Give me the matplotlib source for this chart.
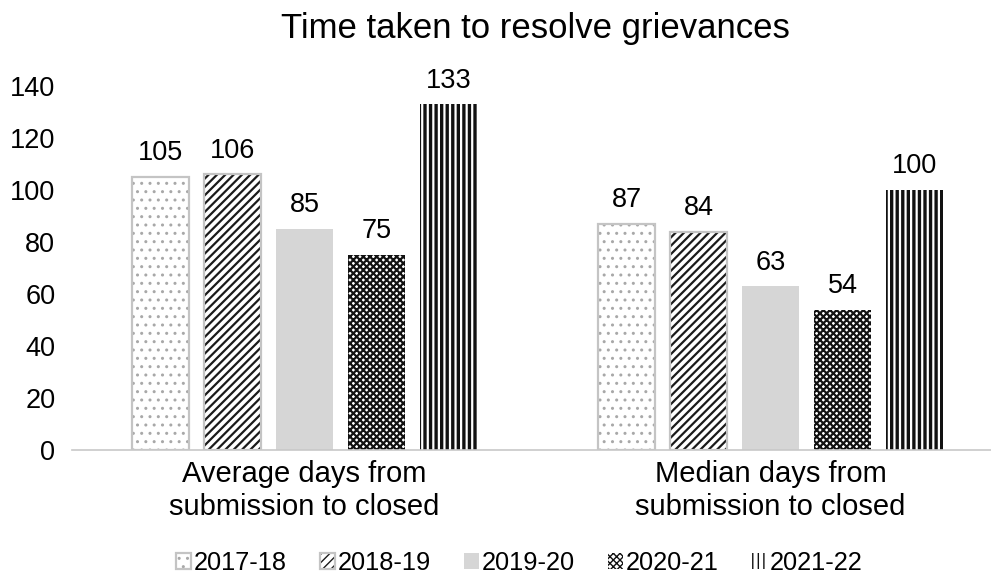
import numpy as np
import matplotlib.pyplot as plt
from matplotlib.legend_handler import HandlerTuple

categories = ["Average days from\nsubmission to closed", "Median days from\nsubmission to closed"]
years = ["2017-18", "2018-19", "2019-20", "2020-21", "2021-22"]
values = {
    "2017-18": [105, 87],
    "2018-19": [106, 84],
    "2019-20": [85, 63],
    "2020-21": [75, 54],
    "2021-22": [133, 100],
}

# fill, hatch colour, hatch, hatch width, outline colour (None = no outline)
styles = [
    ("white", "#a8a8a8", "..", 1.0, "#c4c4c4"),
    ("white", "#1a1a1a", "////", 1.6, "#c4c4c4"),
    ("#d6d6d6", "#d6d6d6", None, 1.0, None),
    ("white", "#111111", "xxxxx", 1.6, None),
    ("white", "#111111", "|||", 2.4, None),
]

plt.rcParams['font.family'] = ['Liberation Sans', 'DejaVu Sans']

fig = plt.figure(figsize=(9.91, 5.77), dpi=100)
ax = fig.add_axes([72 / 991, 1 - 450 / 577, 1 - 72 / 991, 364 / 577])

x = np.arange(len(categories))
step = 0.1545
width = 0.122
handles = []
for i, (yr, st) in enumerate(zip(years, styles)):
    fc, hc, hatch, hlw, oc = st
    pos = x + (i - 2) * step
    bars = ax.bar(pos, values[yr], width, color=fc, edgecolor=hc, hatch=hatch,
                  linewidth=0)
    for b in bars:
        if hasattr(b, "set_hatch_linewidth"):
            b.set_hatch_linewidth(hlw)
    if oc is not None:
        outline = ax.bar(pos, values[yr], width, fill=False, edgecolor=oc, linewidth=1.6)
        handles.append((bars[0], outline[0]))
    else:
        handles.append((bars[0],))
    for p, v in zip(pos, values[yr]):
        ax.annotate(str(v), (p, v), xytext=(0, 12), textcoords="offset points",
                    ha="center", va="baseline", fontsize=19.5)

ax.set_xlim(-0.499, 1.473)
ax.set_ylim(0, 140)
ax.set_yticks(range(0, 141, 20))
ax.tick_params(axis="y", length=0, labelsize=19.5, pad=12)
ax.tick_params(axis="x", length=0, labelsize=21, pad=7)
ax.set_xticks(x)
ax.set_xticklabels(categories, linespacing=1.22)
for s in ["top", "right", "left"]:
    ax.spines[s].set_visible(False)
ax.spines["bottom"].set_color("#c8c8c8")
ax.spines["bottom"].set_linewidth(1.2)

fig.text(0.54, 0.951, "Time taken to resolve grievances", ha="center", va="center", fontsize=25)

fig.legend(handles, years, loc="center", bbox_to_anchor=(0.524, 0.024), ncol=5,
           frameon=False, fontsize=18.3, handlelength=0.6, handleheight=0.6,
           handletextpad=0.1, columnspacing=1.3,
           handler_map={tuple: HandlerTuple(ndivide=1, pad=0)})

fig.savefig("out.png", dpi=100)
